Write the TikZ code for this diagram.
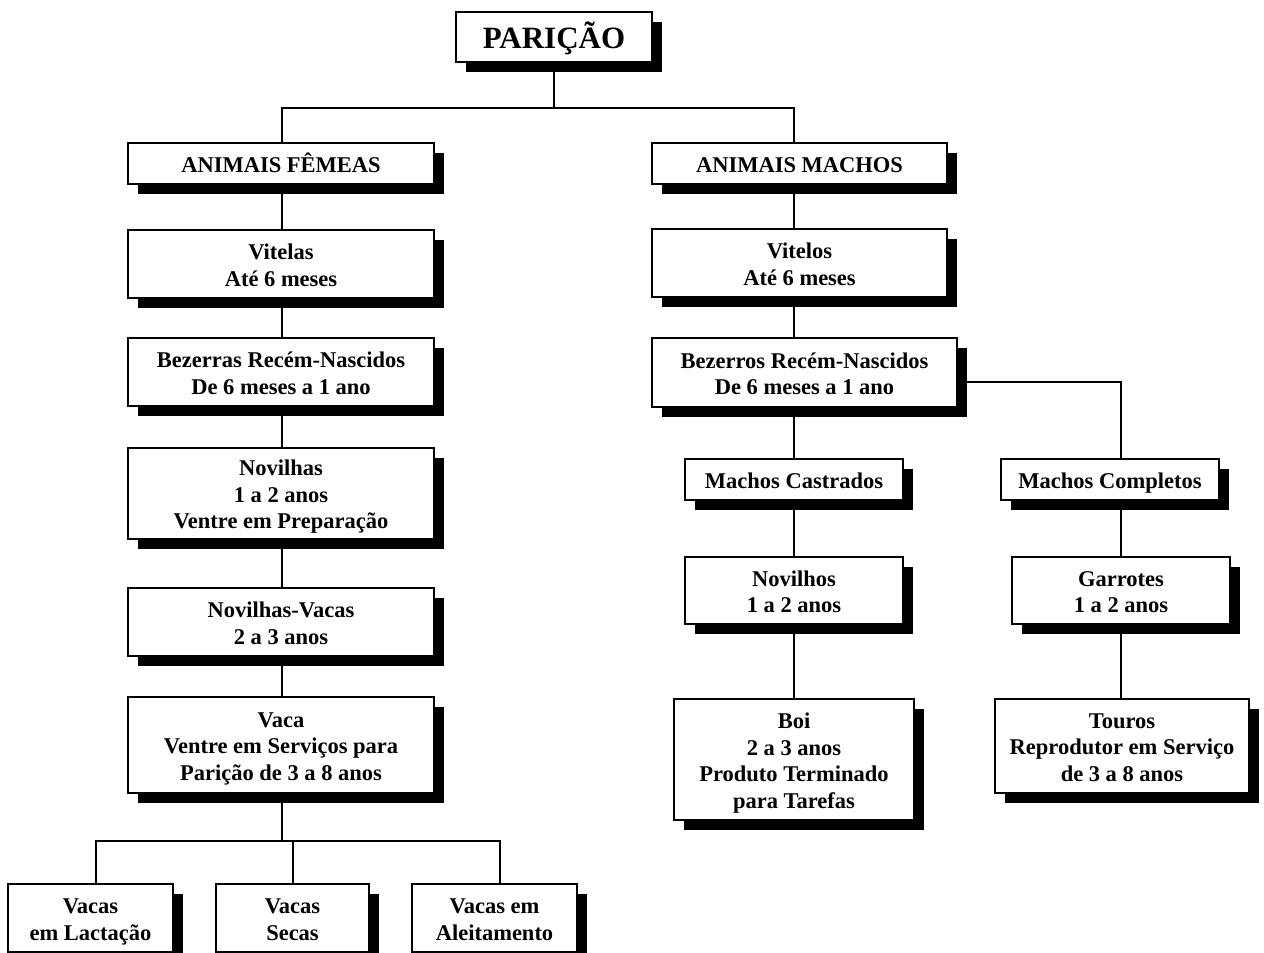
\documentclass[tikz,border=0pt]{standalone}
\usepackage{fontspec}
\setmainfont{Liberation Serif}
\usetikzlibrary{shadows}

% centred block of lines, lowered a little inside its box
% (the box keeps its natural height and depth, so only the ink moves)
\newcommand\tx[1]{\raisebox{-3.5pt}[\height][\depth]{\begin{tabular}{@{}c@{}}#1\end{tabular}}}

\tikzset{
  box/.style={draw=black, fill=white, line width=1.6pt,
    inner sep=0pt, font=\bfseries\fontsize{22.5}{26.5}\selectfont,
    general shadow={fill=black, shadow xshift=10pt, shadow yshift=-10pt}},
  conn/.style={draw=black, line width=1.6pt},
}

% #1 name, #2..#5 left, top, right, bottom, #6 text
\newcommand\tbox[6]{%
  \node[box, minimum width={(#4-#2)*1pt}, minimum height={(#5-#3)*1pt}]
    (#1) at ({(#2+#4)/2},{(#3+#5)/2}) {\tx{#6}};}

\begin{document}
\begin{tikzpicture}[x=1pt, y=-1pt]
\useasboundingbox (0,0) rectangle (1264,953);

% column and level guides for the connectors
\coordinate (xL) at (282,0);
\coordinate (xR) at (794,0);
\coordinate (xRR) at (1121,0);
\coordinate (yT) at (0,108);
\coordinate (yV) at (0,841);
\coordinate (yB) at (0,382);
\coordinate (xa) at (96,0);
\coordinate (xb) at (293,0);
\coordinate (xc) at (500,0);

% top
\node[box, font=\bfseries\fontsize{31}{36}\selectfont,
  minimum width=196pt, minimum height=50pt] (par) at (554,37)
  {\raisebox{-4pt}[\height][\depth]{PARIÇÃO\strut}};

% female branch
\tbox{fem}{128}{143}{434}{184}{ANIMAIS FÊMEAS}
\tbox{vita}{128}{230}{434}{298}{Vitelas\\Até 6 meses}
\tbox{beza}{128}{338}{434}{406}{Bezerras Recém-Nascidos\\De 6 meses a 1 ano}
\tbox{novs}{128}{448}{434}{539}{Novilhas\\1 a 2 anos\\Ventre em Preparação}
\tbox{nvv}{128}{588}{434}{656}{Novilhas-Vacas\\2 a 3 anos}
\tbox{vaca}{128}{697}{434}{793}{Vaca\\Ventre em Serviços para\\Parição de 3 a 8 anos}
\tbox{lac}{8}{884}{173}{952}{Vacas\\em Lactação}
\tbox{sec}{216}{884}{369}{952}{Vacas\\Secas}
\tbox{ale}{412}{884}{577}{952}{Vacas em\\Aleitamento}

% male branch
\tbox{mac}{652}{143}{947}{184}{ANIMAIS MACHOS}
\tbox{vito}{652}{229}{947}{297}{Vitelos\\Até 6 meses}
\tbox{bezo}{652}{338}{957}{407}{Bezerros Recém-Nascidos\\De 6 meses a 1 ano}
\tbox{cas}{685}{459}{903}{500}{Machos Castrados}
\tbox{com}{1001}{459}{1219}{500}{Machos Completos}
\tbox{novo}{685}{557}{903}{624}{Novilhos\\1 a 2 anos}
\tbox{gar}{1012}{557}{1230}{624}{Garrotes\\1 a 2 anos}
\tbox{boi}{674}{699}{914}{820}{Boi\\2 a 3 anos\\Produto Terminado\\para Tarefas}
\tbox{tou}{995}{699}{1249}{793}{Touros\\Reprodutor em Serviço\\de 3 a 8 anos}

% connectors
\draw[conn] (par.south) -- (par.south |- yT);
\draw[conn] (fem.north -| xL) |- (yT -| xR) -- (mac.north -| xR);

\draw[conn] (fem.south -| xL) -- (vita.north -| xL);
\draw[conn] (vita.south -| xL) -- (beza.north -| xL);
\draw[conn] (beza.south -| xL) -- (novs.north -| xL);
\draw[conn] (novs.south -| xL) -- (nvv.north -| xL);
\draw[conn] (nvv.south -| xL) -- (vaca.north -| xL);
\draw[conn] (vaca.south -| xL) -- (yV -| xL);
\draw[conn] (lac.north -| xa) |- (yV -| xc) -- (ale.north -| xc);
\draw[conn] (yV -| xb) -- (sec.north -| xb);

\draw[conn] (mac.south -| xR) -- (vito.north -| xR);
\draw[conn] (vito.south -| xR) -- (bezo.north -| xR);
\draw[conn] (bezo.south -| xR) -- (cas.north -| xR);
\draw[conn] (cas.south -| xR) -- (novo.north -| xR);
\draw[conn] (novo.south -| xR) -- (boi.north -| xR);
\draw[conn] (bezo.east |- yB) -| (com.north -| xRR);
\draw[conn] (com.south -| xRR) -- (gar.north -| xRR);
\draw[conn] (gar.south -| xRR) -- (tou.north -| xRR);
\end{tikzpicture}
\end{document}
